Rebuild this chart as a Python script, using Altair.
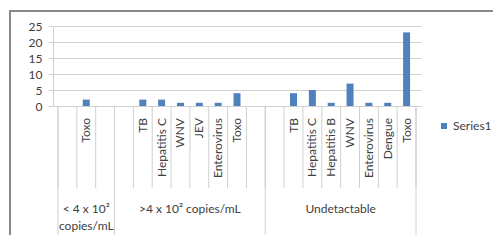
import altair as alt
import pandas as pd

# ---- data ----
categories = ["", "Toxo", "", "", "TB", "Hepatitis C", "WNV", "JEV", "Enterovirus", "Toxo",
              "", "", "TB", "Hepatitis C", "Hepatitis B", "WNV", "Enterovirus", "Dengue", "Toxo"]
values = [None, 2, None, None, 2, 2, 1, 1, 1, 4,
          None, None, 4, 5, 1, 7, 1, 1, 23]
groups = ["< 4 x 10²\ncopies/mL", ">4 x 10² copies/mL", "Undetactable"]
group_sizes = [3, 8, 8]
series_name = "Series1"
y_ticks = [0, 5, 10, 15, 20, 25]

FONT = "Lato"
TEXT = "#404040"
LINE = "#D0D0D0"
BAR = "#4F81BD"

n = len(categories)
slots = pd.DataFrame({
    "slot": list(range(n)),
    "center": [i + 0.5 for i in range(n)],
    "category": categories,
    "value": values,
    "series": [series_name] * n,
})
bar_df = slots.dropna(subset=["value"])

bounds = [0]
for s in group_sizes:
    bounds.append(bounds[-1] + s)
group_df = pd.DataFrame({
    "group": groups,
    "center": [(bounds[i] + bounds[i + 1]) / 2 for i in range(len(groups))],
})
sep_short = pd.DataFrame({"pos": list(range(n + 1))})
sep_long = pd.DataFrame({"pos": bounds})

xs = alt.Scale(domain=[0, n], nice=False, zero=False)
ys = alt.Scale(domain=[0, 25], nice=False)

bars = alt.Chart(bar_df).mark_bar(size=7).encode(
    x=alt.X("center:Q", scale=xs, axis=None),
    y=alt.Y("value:Q", scale=ys, title=None,
            axis=alt.Axis(values=y_ticks, grid=True, gridColor=LINE, domain=True,
                          domainColor=LINE, tickColor=LINE, tickSize=5, labelPadding=6,
                          labelFont=FONT, labelFontSize=12, labelColor=TEXT)),
    color=alt.Color("series:N", scale=alt.Scale(range=[BAR]), title=None,
                    legend=alt.Legend(orient="none", legendX=385, legendY=94, padding=0,
                                      symbolType="square", symbolSize=36, symbolStrokeWidth=0,
                                      labelFont=FONT, labelFontSize=12, labelColor=TEXT,
                                      labelOffset=3)),
)

short_rules = alt.Chart(sep_short).mark_rule(color=LINE, strokeWidth=1).encode(
    x=alt.X("pos:Q", scale=xs, axis=None),
    y=alt.value(80), y2=alt.value(162),
)
long_rules = alt.Chart(sep_long).mark_rule(color=LINE, strokeWidth=1).encode(
    x=alt.X("pos:Q", scale=xs, axis=None),
    y=alt.value(80), y2=alt.value(215),
)

tick_labels = alt.Chart(slots).mark_text(
    angle=270, align="right", baseline="middle", font=FONT, fontSize=12, color=TEXT
).encode(
    x=alt.X("center:Q", scale=xs, axis=None),
    y=alt.value(92),
    text="category:N",
)

group_labels = alt.Chart(group_df).mark_text(
    align="center", baseline="top", font=FONT, fontSize=12, color=TEXT,
    lineBreak="\n", lineHeight=17,
).encode(
    x=alt.X("center:Q", scale=xs, axis=None),
    y=alt.value(178),
    text="group:N",
)

frame_left = alt.Chart(group_df.head(1)).mark_rule(color="#8A8A8A", strokeWidth=2).encode(
    x=alt.value(-43), y=alt.value(-15), y2=alt.value(215),
)
frame_top = alt.Chart(group_df.head(1)).mark_rule(color="#8A8A8A", strokeWidth=2).encode(
    x=alt.value(-44), x2=alt.value(445), y=alt.value(-15),
)

chart = alt.layer(
    short_rules, long_rules, bars, tick_labels, group_labels, frame_left, frame_top
).properties(
    width=368, height=80,
    autosize=alt.AutoSizeParams(type="none"),
    padding={"left": 45, "top": 18, "right": 72, "bottom": 129},
).configure_view(stroke=None)

chart.save("out.html", embed_options={"renderer": "svg", "actions": False})
